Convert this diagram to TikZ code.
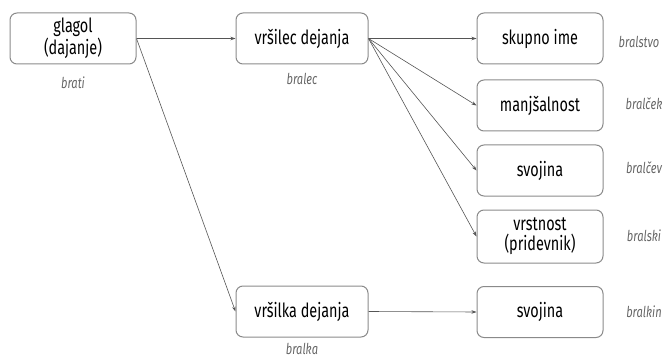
\documentclass[tikz,border=0pt]{standalone}
\usepackage{fontspec}
\setmainfont[FakeStretch=0.74]{Fira Sans}
\usetikzlibrary{arrows.meta}
\definecolor{boxline}{HTML}{8A8A8A}
\definecolor{edgeline}{HTML}{555555}
\definecolor{lbl}{HTML}{666666}
\tikzset{
  box/.style={draw=boxline, line width=1pt, rounded corners=7pt, minimum width=126pt, minimum height=51pt, align=center, font=\fontsize{19.5}{20}\selectfont, text=black, inner sep=2pt},
  lab/.style={font=\fontsize{15}{16}\selectfont\itshape, text=lbl, inner sep=0pt},
  conn/.style={draw=edgeline, line width=0.6pt, -{Stealth[length=5pt,width=3.5pt]}}
}
\begin{document}
\begin{tikzpicture}[x=1pt,y=1pt]
\useasboundingbox (0,0) rectangle (666,-358);
\node[box] (glagol) at (73,-38.5) {glagol\\(dajanje)};
\node[lab] (lbrati) at (73,-83) {brati};
\node[box, minimum width=132pt] (vrsilec) at (302,-38.5) {vršilec dejanja};
\node[lab] (lbralec) at (302,-79) {bralec};
\node[box, minimum width=132pt] (vrsilka) at (302,-311.5) {vršilka dejanja};
\node[lab] (lbralka) at (302,-349) {bralka};
\node[box] (skupno) at (540,-38.5) {skupno ime};
\node[box] (manjs) at (540,-105.5) {manjšalnost};
\node[box] (svoj1) at (540,-170.5) {svojina};
\node[box, minimum height=53pt] (vrstn) at (540,-236.5) {vrstnost\\(pridevnik)};
\node[box] (svoj2) at (540,-312) {svojina};
\node[lab] (l1) at (639,-42) {bralstvo};
\node[lab] (l2) at (644,-104) {bralček};
\node[lab] (l3) at (644,-168) {bralčev};
\node[lab] (l4) at (644,-236) {bralski};
\node[lab] (l5) at (644,-312) {bralkin};
\draw[conn] (glagol.east) -- (vrsilec.west);
\draw[conn] (glagol.east) -- (vrsilka.west);
\draw[conn] (vrsilec.east) -- (skupno.west);
\draw[conn] (vrsilec.east) -- (manjs.west);
\draw[conn] (vrsilec.east) -- (svoj1.west);
\draw[conn] (vrsilec.east) -- (vrstn.west);
\draw[conn] (vrsilka.east) -- (svoj2.west);
\end{tikzpicture}
\end{document}
